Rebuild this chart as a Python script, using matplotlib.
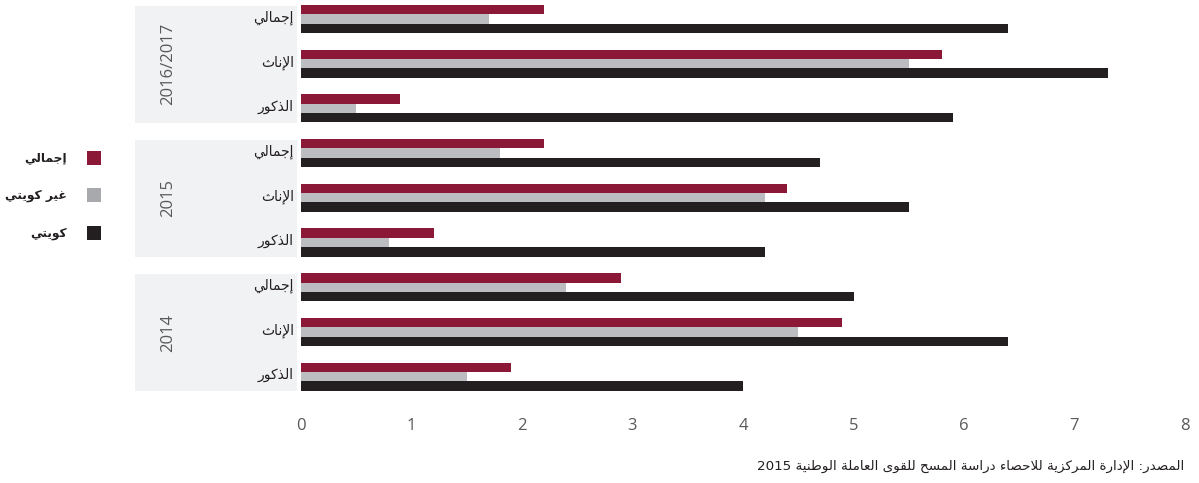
import matplotlib
matplotlib.use("Agg")
import matplotlib.pyplot as plt
from matplotlib.patches import Rectangle
from matplotlib.transforms import blended_transform_factory

# ---------------------------------------------------------------- data
years = ["2016/2017", "2015", "2014"]
categories = ["إجمالي", "الإناث", "الذكور"]
series_names = ["إجمالي", "غير كويتي", "كويتي"]

# values per year, rows follow `categories`
total_vals = {            # إجمالي
    "2016/2017": [2.2, 5.8, 0.9],
    "2015":      [2.2, 4.4, 1.2],
    "2014":      [2.9, 4.9, 1.9],
}
nonkuwaiti_vals = {       # غير كويتي
    "2016/2017": [1.7, 5.5, 0.5],
    "2015":      [1.8, 4.2, 0.8],
    "2014":      [2.4, 4.5, 1.5],
}
kuwaiti_vals = {          # كويتي
    "2016/2017": [6.4, 7.3, 5.9],
    "2015":      [4.7, 5.5, 4.2],
    "2014":      [5.0, 6.4, 4.0],
}
x_ticks = [0, 1, 2, 3, 4, 5, 6, 7, 8]
source_text = "المصدر: الإدارة المركزية للاحصاء دراسة المسح للقوى العاملة الوطنية 2015"

# ---------------------------------------------------------------- styles
C_TOTAL = "#8C1838"
C_NONKW = "#BCBDC0"
C_KW = "#231F20"
C_LEG_GRAY = "#A7A9AC"
C_BAND = "#F1F2F4"
C_TICK = "#58595B"
AR_FONT = "DejaVu Sans"
NUM_FONT = "Open Sans"

# ---------------------------------------------------------------- Arabic shaping
FOUR = {'ئ': 0xFE89, 'ب': 0xFE8F, 'ت': 0xFE95, 'ث': 0xFE99, 'ج': 0xFE9D,
        'ح': 0xFEA1, 'خ': 0xFEA5, 'س': 0xFEB1, 'ش': 0xFEB5, 'ص': 0xFEB9,
        'ض': 0xFEBD, 'ط': 0xFEC1, 'ظ': 0xFEC5, 'ع': 0xFEC9, 'غ': 0xFECD,
        'ف': 0xFED1, 'ق': 0xFED5, 'ك': 0xFED9, 'ل': 0xFEDD, 'م': 0xFEE1,
        'ن': 0xFEE5, 'ه': 0xFEE9, 'ي': 0xFEF1}
TWO = {'آ': 0xFE81, 'أ': 0xFE83, 'ؤ': 0xFE85, 'إ': 0xFE87, 'ا': 0xFE8D,
       'ة': 0xFE93, 'د': 0xFEA9, 'ذ': 0xFEAB, 'ر': 0xFEAD, 'ز': 0xFEAF,
       'و': 0xFEED, 'ى': 0xFEEF}
ONE = {'ء': 0xFE80}
LAM_ALEF = {'آ': 0xFEF5, 'أ': 0xFEF7, 'إ': 0xFEF9, 'ا': 0xFEFB}


def ar(text):
    """Contextual forms + right-to-left visual order for Arabic strings."""
    tokens = []
    i = 0
    while i < len(text):
        c = text[i]
        if c == 'ل' and i + 1 < len(text) and text[i + 1] in LAM_ALEF:
            tokens.append(('LA', text[i + 1]))
            i += 2
        else:
            tokens.append(('C', c))
            i += 1

    def joins_next(tok):
        return tok[0] == 'C' and tok[1] in FOUR

    def joins_prev(tok):
        return tok[0] == 'LA' or tok[1] in FOUR or tok[1] in TWO

    out = []
    for k, tok in enumerate(tokens):
        prev = tokens[k - 1] if k > 0 else None
        nxt = tokens[k + 1] if k + 1 < len(tokens) else None
        p = prev is not None and joins_next(prev) and joins_prev(tok)
        n = nxt is not None and joins_next(tok) and joins_prev(nxt)
        kind, c = tok
        if kind == 'LA':
            out.append(chr(LAM_ALEF[c] + (1 if p else 0)))
        elif c in FOUR:
            off = 3 if (p and n) else 1 if p else 2 if n else 0
            out.append(chr(FOUR[c] + off))
        elif c in TWO:
            out.append(chr(TWO[c] + (1 if p else 0)))
        elif c in ONE:
            out.append(chr(ONE[c]))
        else:
            out.append(c)

    vis = out[::-1]
    # keep runs of digits / latin characters left-to-right
    res, run = [], []
    for ch in vis:
        if ch.isascii() and (ch.isalnum() or ch in "/."):
            run.append(ch)
        else:
            if run:
                res.extend(run[::-1])
                run = []
            res.append(ch)
    if run:
        res.extend(run[::-1])
    return "".join(res)


# ---------------------------------------------------------------- figure
W, H = 1199, 483
fig = plt.figure(figsize=(W / 100, H / 100), dpi=100)

ax_left, ax_right = 301 / W, 1185 / W
ax_top_px, ax_bot_px = 0, 400
ax = fig.add_axes([ax_left, 1 - ax_bot_px / H, ax_right - ax_left,
                   (ax_bot_px - ax_top_px) / H])

step_px = 44.7
first_px = 19.0
ax.set_ylim((ax_bot_px - first_px) / step_px, (ax_top_px - first_px) / step_px)
ax.set_xlim(x_ticks[0], x_ticks[-1])

bar_h = 0.21
series = [(total_vals, C_TOTAL, -bar_h), (nonkuwaiti_vals, C_NONKW, 0.0),
          (kuwaiti_vals, C_KW, bar_h)]

band_tf = blended_transform_factory(fig.transFigure, ax.transData)
pos = 0
for year in years:
    start = pos
    for ci, cat in enumerate(categories):
        for vals, color, off in series:
            ax.barh(pos + off, vals[year][ci], height=bar_h, color=color,
                    linewidth=0, zorder=3)
        ax.text(294 / W, pos - 0.03, ar(cat), transform=band_tf, ha="right",
                va="center", fontsize=10, family=AR_FONT, color=C_KW,
                clip_on=False, zorder=4)
        pos += 1
    end = pos - 1
    y0, y1 = start - 0.30, end + 0.33
    ax.add_patch(Rectangle((135 / W, y0), (297 - 135) / W, y1 - y0,
                           transform=band_tf, facecolor=C_BAND,
                           edgecolor="none", zorder=0, clip_on=False))
    ax.text(168 / W, (y0 + y1) / 2, year, transform=band_tf, rotation=90,
            ha="center", va="center", fontsize=12, family=NUM_FONT,
            color=C_TICK, clip_on=False, zorder=4)

ax.set_yticks([])
ax.set_xticks(x_ticks)
ax.set_xticklabels([str(t) for t in x_ticks], family=NUM_FONT, fontsize=12,
                   color=C_TICK)
ax.tick_params(axis="x", length=0, pad=13)
for sp in ax.spines.values():
    sp.set_visible(False)
ax.patch.set_alpha(0)

# legend
leg_colors = [C_TOTAL, C_LEG_GRAY, C_KW]
leg_y = [158, 195, 233]
for name, col, yc in zip(series_names, leg_colors, leg_y):
    sq = 14
    fig.patches.append(Rectangle((87 / W, 1 - (yc + sq / 2) / H), sq / W,
                                 sq / H, transform=fig.transFigure,
                                 facecolor=col, edgecolor="none"))
    fig.text(67 / W, 1 - yc / H, ar(name), ha="right", va="center",
             fontsize=8.8, fontweight="bold", family=AR_FONT, color=C_KW)

# source note
fig.text(1184 / W, 1 - 466 / H, ar(source_text), ha="right", va="center",
         fontsize=9.7, family=AR_FONT, color=C_KW)

fig.savefig("out.png", dpi=100)
